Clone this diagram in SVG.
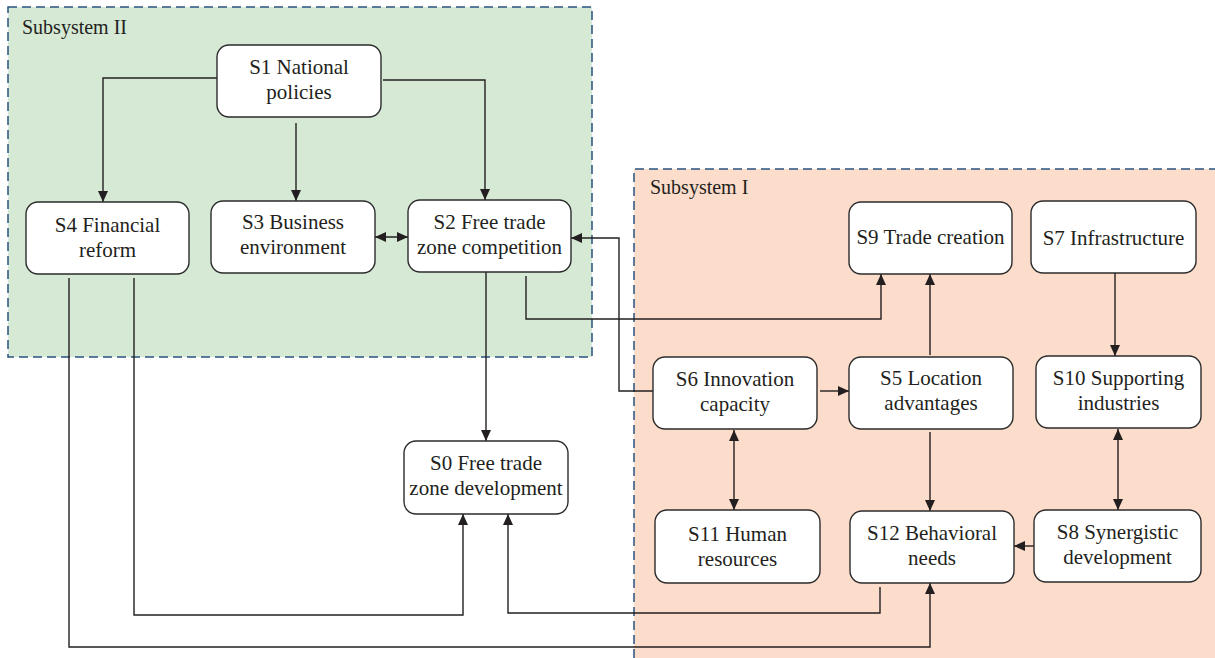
<svg xmlns="http://www.w3.org/2000/svg" width="1215" height="658" viewBox="0 0 1215 658">
<style>
.node rect{fill:#fff;stroke:#2b2b2b;stroke-width:1.4}
.node text,.lbl{font-family:"Liberation Serif",serif;font-size:21px;fill:#231f20;text-anchor:middle}
.lbl{text-anchor:start;font-size:20px}
.conn path{fill:none;stroke:#231f20;stroke-width:1.4}
.dash{stroke:#28527f;stroke-width:1.5;stroke-dasharray:9 5;fill:none}
</style>
<defs>
<marker id="ah" markerUnits="userSpaceOnUse" markerWidth="12" markerHeight="10" refX="11" refY="5" orient="auto-start-reverse">
<path d="M0,0 L11,5 L0,10 z" fill="#231f20"/>
</marker>
</defs>
<g id="subsystem2">
<rect x="8" y="7" width="584" height="350" fill="#d5e9d5"/>
<rect x="8" y="7" width="584" height="350" class="dash"/>
<text class="lbl" x="22" y="34">Subsystem II</text>
</g>
<g id="subsystem1">
<rect x="634" y="169" width="581" height="489" fill="#fcdccb"/>
<path d="M634,658 V169 H1215" class="dash"/>
<text class="lbl" x="650" y="194">Subsystem I</text>
</g>
<g id="connectors" class="conn">
<path d="M217,78 H103 V202" marker-end="url(#ah)"/>
<path d="M296,123 V201" marker-end="url(#ah)"/>
<path d="M383,80 H485 V200" marker-end="url(#ah)"/>
<path d="M375,237 H408" marker-start="url(#ah)" marker-end="url(#ah)"/>
<path d="M653,391 H619 V238 H571" marker-end="url(#ah)"/>
<path d="M526,276 V319 H881 V274" marker-end="url(#ah)"/>
<path d="M820,391 H849" marker-end="url(#ah)"/>
<path d="M930,355 V274" marker-end="url(#ah)"/>
<path d="M1115,273 V356" marker-end="url(#ah)"/>
<path d="M1118,429 V510" marker-start="url(#ah)" marker-end="url(#ah)"/>
<path d="M734,430 V510" marker-start="url(#ah)" marker-end="url(#ah)"/>
<path d="M930,432 V511" marker-end="url(#ah)"/>
<path d="M1034,546 H1014" marker-end="url(#ah)"/>
<path d="M880,587 V613 H508 V514" marker-end="url(#ah)"/>
<path d="M134,278 V615 H463 V514" marker-end="url(#ah)"/>
<path d="M69,278 V647 H930 V583" marker-end="url(#ah)"/>
<path d="M486,272 V441" marker-end="url(#ah)"/>
</g>
<g id="S1" class="node"><rect x="217" y="45" width="164" height="72" rx="12"/><text x="299" y="74">S1 National</text><text x="299" y="99">policies</text></g>
<g id="S4" class="node"><rect x="26" y="202" width="163" height="72" rx="12"/><text x="107.5" y="232">S4 Financial</text><text x="107.5" y="257">reform</text></g>
<g id="S3" class="node"><rect x="211" y="201" width="164" height="72" rx="12"/><text x="293" y="229">S3 Business</text><text x="293" y="254">environment</text></g>
<g id="S2" class="node"><rect x="408" y="200" width="163" height="72" rx="12"/><text x="489.5" y="229">S2 Free trade</text><text x="489.5" y="254">zone competition</text></g>
<g id="S0" class="node"><rect x="404" y="441" width="164" height="73" rx="12"/><text x="486" y="470">S0 Free trade</text><text x="486" y="495">zone development</text></g>
<g id="S9" class="node"><rect x="849" y="202" width="163" height="72" rx="12"/><text x="930.5" y="244">S9 Trade creation</text></g>
<g id="S7" class="node"><rect x="1031" y="201" width="165" height="72" rx="12"/><text x="1113.5" y="245">S7 Infrastructure</text></g>
<g id="S6" class="node"><rect x="653" y="357" width="164" height="72" rx="12"/><text x="735" y="386">S6 Innovation</text><text x="735" y="411">capacity</text></g>
<g id="S5" class="node"><rect x="849" y="357" width="164" height="72" rx="12"/><text x="931" y="385">S5 Location</text><text x="931" y="410">advantages</text></g>
<g id="S10" class="node"><rect x="1036" y="356" width="165" height="72" rx="12"/><text x="1118.5" y="385">S10 Supporting</text><text x="1118.5" y="410">industries</text></g>
<g id="S11" class="node"><rect x="655" y="510" width="165" height="73" rx="12"/><text x="737.5" y="541">S11 Human</text><text x="737.5" y="566">resources</text></g>
<g id="S12" class="node"><rect x="850" y="511" width="164" height="72" rx="12"/><text x="932" y="540">S12 Behavioral</text><text x="932" y="565">needs</text></g>
<g id="S8" class="node"><rect x="1034" y="510" width="167" height="72" rx="12"/><text x="1117.5" y="539">S8 Synergistic</text><text x="1117.5" y="564">development</text></g>
</svg>
